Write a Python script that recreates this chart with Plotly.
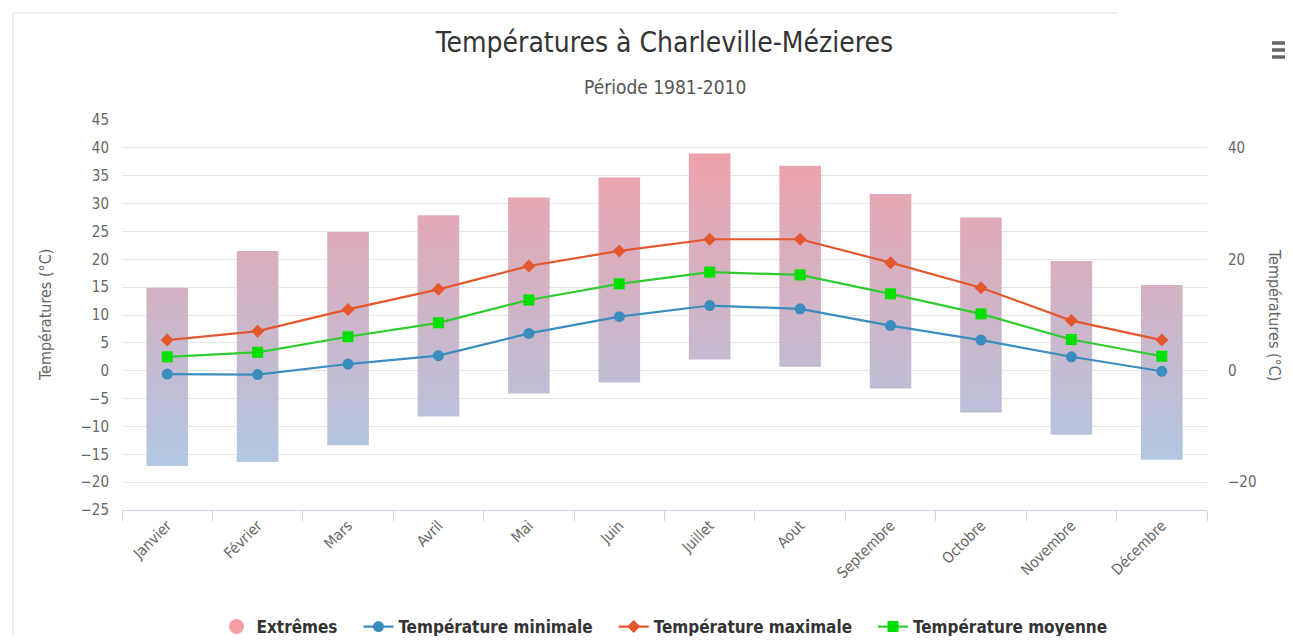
import plotly.graph_objects as go

months = ["Janvier", "Février", "Mars", "Avril", "Mai", "Juin", "Juillet",
          "Aout", "Septembre", "Octobre", "Novembre", "Décembre"]
extreme_high = [14.9, 21.5, 24.9, 27.9, 31.1, 34.7, 39.0, 36.8, 31.7, 27.5, 19.7, 15.4]
extreme_low = [-17.1, -16.4, -13.4, -8.2, -4.1, -2.1, 2.0, 0.7, -3.2, -7.5, -11.5, -16.0]
temp_min = [-0.6, -0.7, 1.2, 2.7, 6.7, 9.7, 11.7, 11.1, 8.1, 5.5, 2.5, -0.1]
temp_max = [5.5, 7.1, 11.0, 14.6, 18.8, 21.5, 23.6, 23.6, 19.4, 14.9, 9.0, 5.5]
temp_mean = [2.5, 3.3, 6.1, 8.6, 12.7, 15.6, 17.7, 17.2, 13.8, 10.2, 5.6, 2.6]
left_ticks = [45, 40, 35, 30, 25, 20, 15, 10, 5, 0, -5, -10, -15, -20, -25]
right_ticks = [40, 20, 0, -20]

FONT = "DejaVu Sans Condensed, DejaVu Sans, sans-serif"
W, H = 1277, 628          # page has an 8px body margin
L, R, T, B = 114, 78, 112, 126
PW, PH = W - L - R, H - T - B
PAD = "\u00a0\u00a0\u00a0"  # extra spacing between legend entries


def px(xf):   # figure pixel x -> paper
    return (xf - L) / PW


def py(yf):   # figure pixel y -> paper
    return (H - B - yf) / PH


idx = list(range(len(months)))
hw = 0.23

bx, by = [], []
for i, lo, hi in zip(idx, extreme_low, extreme_high):
    bx += [i - hw, i + hw, i + hw, i - hw, i - hw, None]
    by += [lo, lo, hi, hi, lo, None]

fig = go.Figure()
fig.add_trace(go.Scatter(
    x=bx, y=by, mode="lines", fill="toself", line=dict(width=0),
    fillgradient=dict(type="vertical",
                      colorscale=[[0, "rgb(168,204,234)"], [1, "rgb(244,158,166)"]],
                      start=-25, stop=45),
    showlegend=False, hoverinfo="skip"))
fig.add_trace(go.Scatter(
    x=[None], y=[None], mode="markers", name="Extrêmes" + PAD,
    marker=dict(symbol="circle", size=15, color="rgb(244,158,166)"),
    yaxis="y2"))
fig.add_trace(go.Scatter(
    x=idx, y=temp_min, mode="lines+markers", name="Température minimale" + PAD,
    line=dict(color="#3b8dbf", width=2.2),
    marker=dict(symbol="circle", size=11, color="#3b8dbf")))
fig.add_trace(go.Scatter(
    x=idx, y=temp_max, mode="lines+markers", name="Température maximale" + PAD,
    line=dict(color="#e4572e", width=2.2),
    marker=dict(symbol="diamond", size=10, color="#e4572e")))
fig.add_trace(go.Scatter(
    x=idx, y=temp_mean, mode="lines+markers", name="Température moyenne",
    line=dict(color="#2ecc2e", width=2.2),
    marker=dict(symbol="square", size=11, color="#00e000")))

border = "#e4ecf6"
shapes = [
    dict(type="line", xref="paper", yref="paper", x0=px(5), x1=px(1110), y0=py(5), y1=py(5),
         line=dict(color=border, width=1.5)),
    dict(type="line", xref="paper", yref="paper", x0=px(5), x1=px(5), y0=py(5), y1=py(H),
         line=dict(color=border, width=1.5)),
]
for yy in (35, 42, 49):
    shapes.append(dict(type="line", xref="paper", yref="paper", x0=px(1264), x1=px(W + 5),
                       y0=py(yy), y1=py(yy), line=dict(color="#666666", width=3.5)))

fig.update_layout(
    width=W, height=H,
    paper_bgcolor="white", plot_bgcolor="white",
    margin=dict(l=L, r=R, t=T, b=B, pad=0),
    font=dict(family=FONT, color="#666666", size=13),
    title=dict(text="Températures à Charleville-Mézieres", x=0.5, xref="paper",
               xanchor="center", y=1 - 34 / H, yanchor="middle", yref="container",
               font=dict(family=FONT, size=28, color="#333333")),
    xaxis=dict(range=[-0.5, 11.5], tickvals=idx, ticktext=months, tickangle=-45,
               ticks="", showgrid=False, zeroline=False,
               showline=True, linecolor="#ccd6eb", linewidth=1,
               minor=dict(tick0=-0.5, dtick=1, ticks="outside", ticklen=10,
                          tickcolor="#ccd6eb", showgrid=False),
               tickfont=dict(family=FONT, size=15, color="#666666")),
    yaxis=dict(range=[-25, 45], tickvals=left_ticks, showgrid=True, gridcolor="#e6e6e6",
               zeroline=False, showline=False, ticks="", ticklabelstandoff=12,
               tickfont=dict(family=FONT, size=15, color="#666666")),
    yaxis2=dict(range=[-25, 45], tickvals=right_ticks, overlaying="y", side="right",
                showgrid=False, zeroline=False, showline=False, ticks="",
                ticklabelstandoff=20,
                tickfont=dict(family=FONT, size=15, color="#666666")),
    legend=dict(orientation="h", x=0.5, xanchor="center", xref="paper",
                y=(H - 619) / H, yanchor="middle", yref="container",
                font=dict(family=FONT, size=17, color="#333333", weight="bold"),
                itemwidth=30),
    shapes=shapes,
    annotations=[
        dict(text="Période 1981-2010", x=0.5, xref="paper", y=py(79), yref="paper",
             yanchor="middle", xanchor="center",
             showarrow=False, font=dict(family=FONT, size=19, color="#555555")),
        dict(text="Températures (°C)", x=px(37), xref="paper", xanchor="center",
             y=0.5, yref="paper", yanchor="middle", showarrow=False, textangle=-90,
             font=dict(family=FONT, size=16, color="#666666")),
        dict(text="Températures (°C)", x=px(1267), xref="paper", xanchor="center",
             y=0.5, yref="paper", yanchor="middle", showarrow=False, textangle=90,
             font=dict(family=FONT, size=16, color="#666666")),
    ],
)

fig.write_html("out.html")
